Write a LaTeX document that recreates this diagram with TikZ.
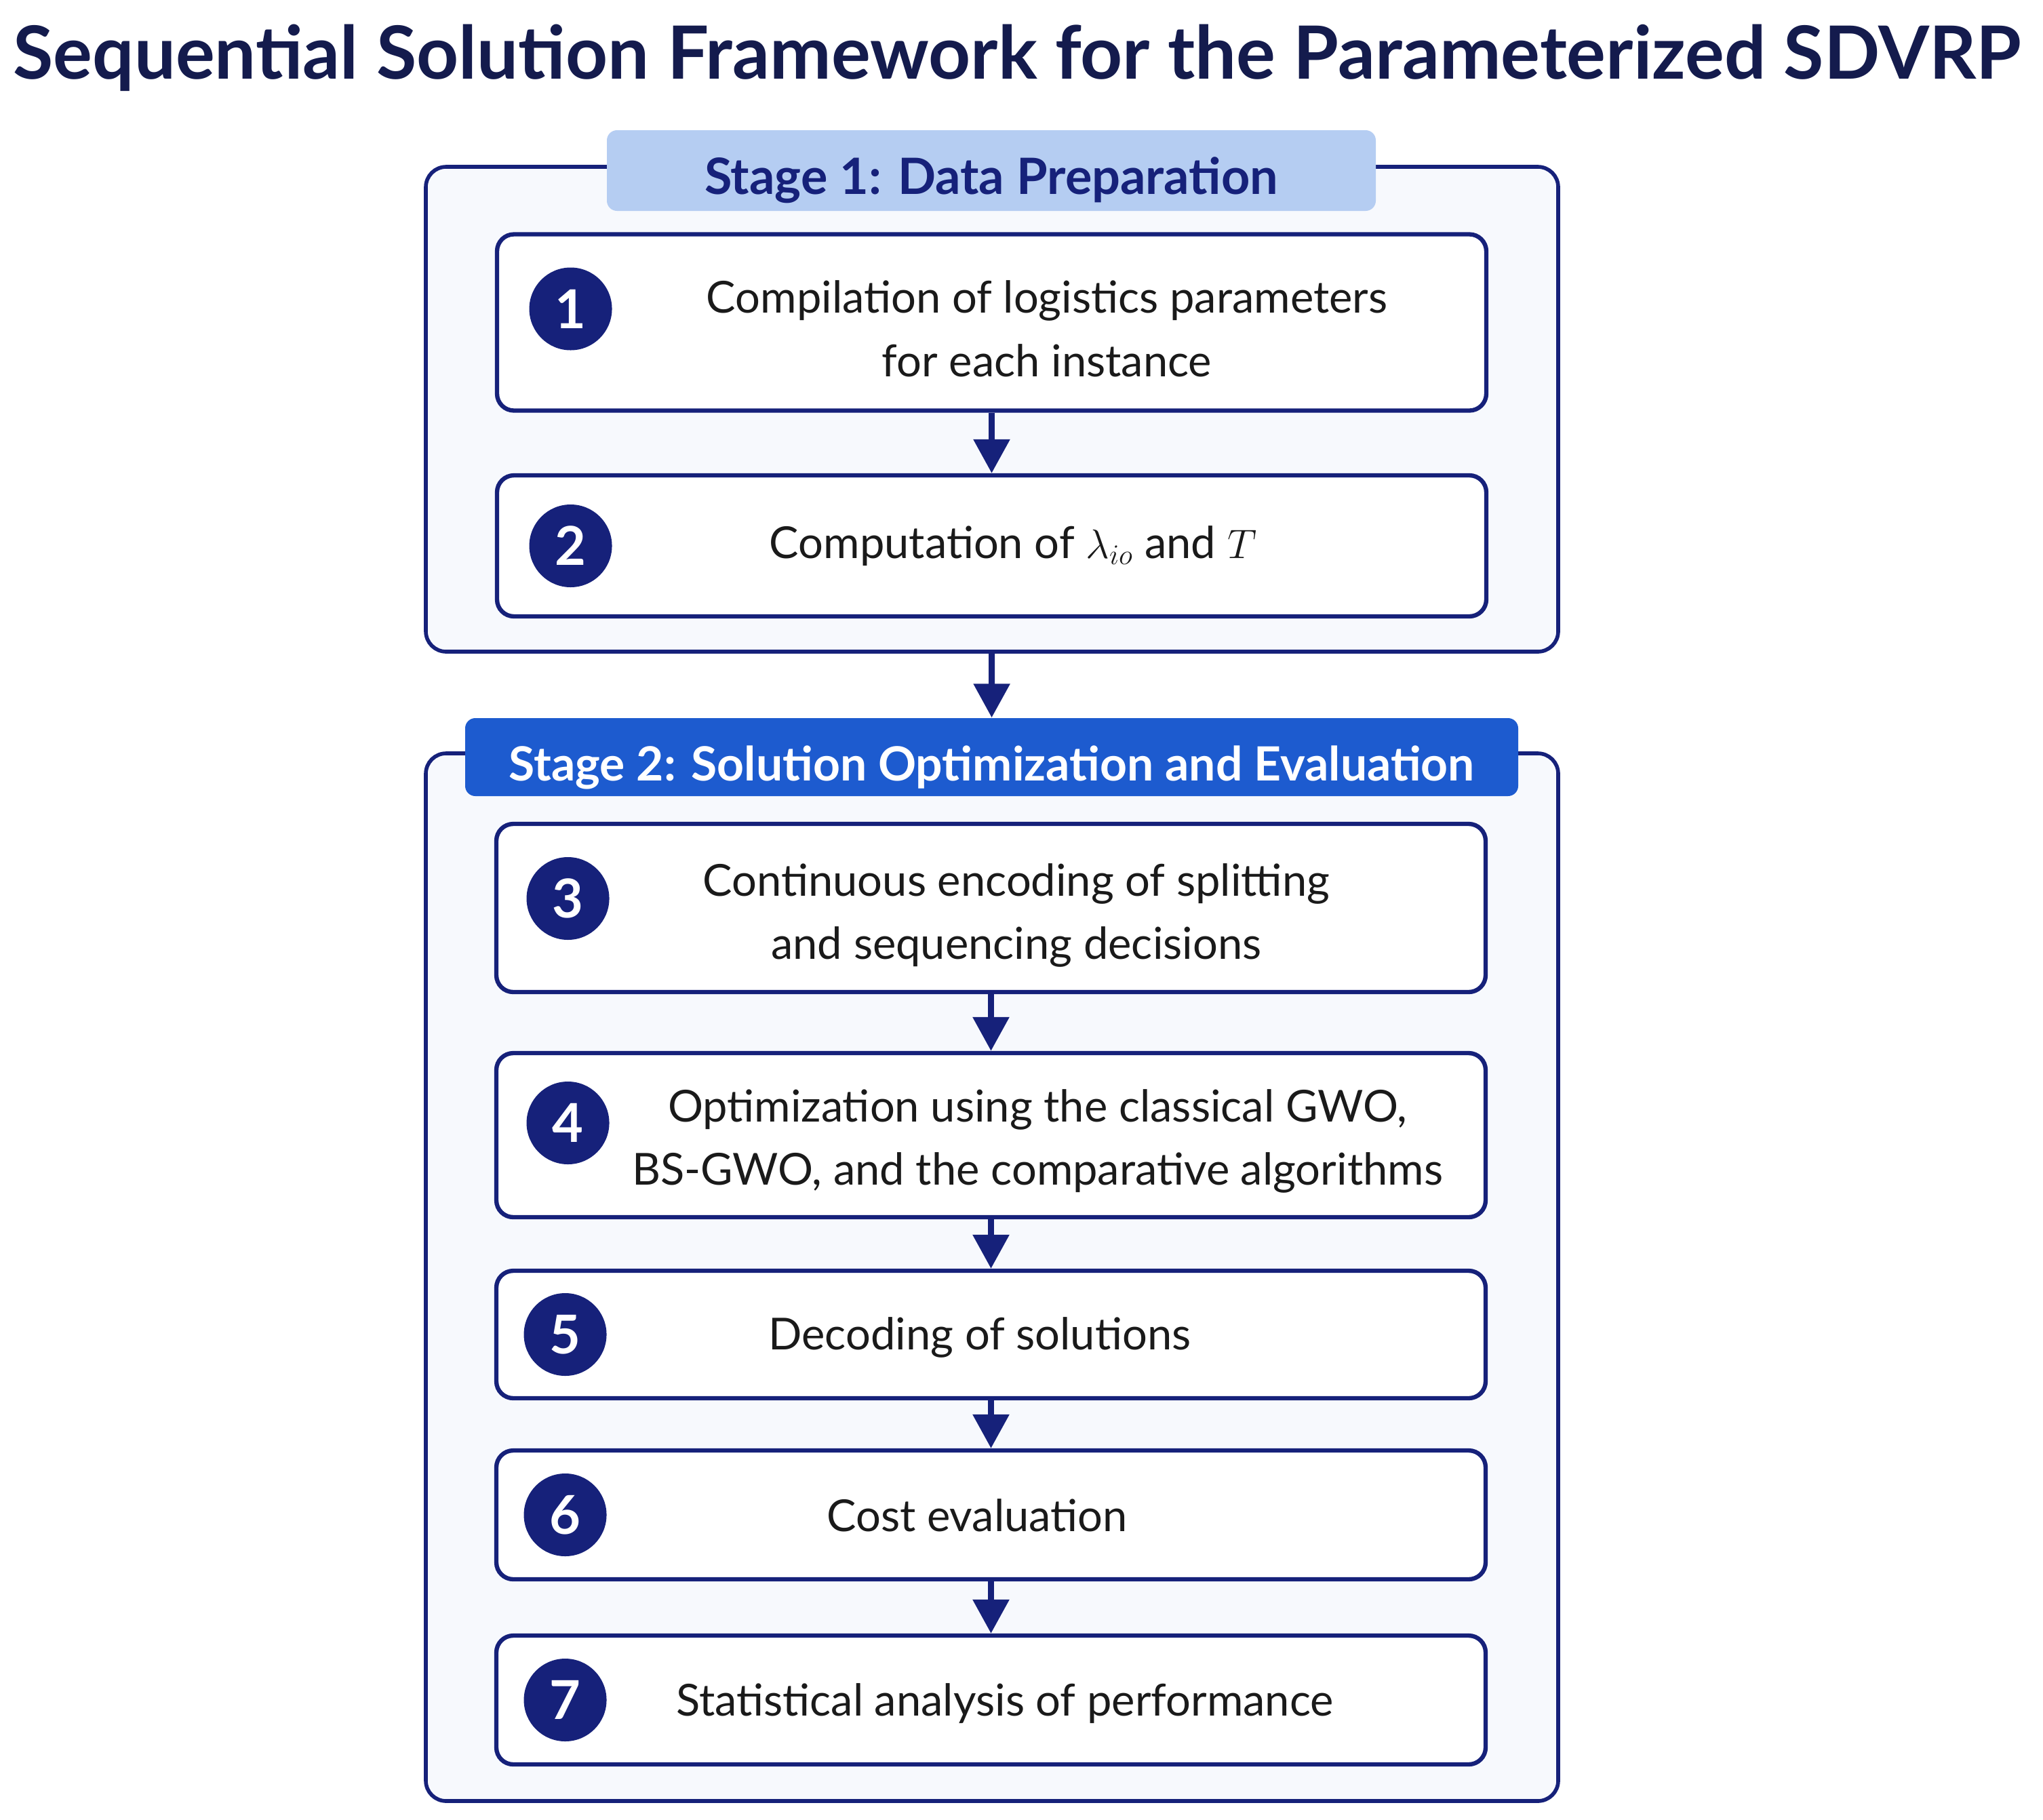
\documentclass[tikz,border=0pt]{standalone}
\usepackage{fontspec}
\setmainfont{Lato}
\usetikzlibrary{arrows.meta, positioning}
\definecolor{navy}{HTML}{16217A}
\definecolor{titlenavy}{HTML}{141B4D}
\definecolor{hdrlight}{HTML}{B5CDF2}
\definecolor{hdrblue}{HTML}{1D5BCF}
\definecolor{stagebg}{HTML}{F7F9FD}
\definecolor{bodytext}{HTML}{1A1A1A}

\begin{document}
\begin{tikzpicture}[
  stagebox/.style={draw=navy, line width=1.6pt, fill=stagebg, rounded corners=0.3cm, minimum width=16.7cm},
  stagehdr/.style={rounded corners=0.15cm, text height=20pt, text depth=0pt},
  stepbox/.style={draw=navy, line width=1.8pt, fill=white, rounded corners=0.25cm, minimum width=14.59cm},
  numcirc/.style={circle, fill=navy, minimum size=1.22cm, inner sep=0pt, text=white, font=\fontsize{22.5}{24}\selectfont\bfseries},
  steptext/.style={text=bodytext, align=center, font=\fontsize{18.5}{26.7}\selectfont},
  flow/.style={draw=navy, line width=2.6pt, -{Triangle[length=0.5cm, width=0.52cm]}},
]
  \useasboundingbox (0,0) rectangle (30.13,-26.84);

  % Title
  \node[anchor=base, text=titlenavy, font=\fontsize{30.8}{34}\selectfont\bfseries] (title) at (15.0,-1.16)
    {Sequential Solution Framework for the Parameterized SDVRP};

  % Stage 1
  \node[stagebox, minimum height=7.15cm] (stage1) at (14.63,-6.035) {};
  \node[stagehdr, fill=hdrlight, text=navy, minimum width=11.34cm, minimum height=1.19cm,
        font=\fontsize{21}{24}\selectfont\bfseries] (hdr1) at (14.62,-2.515)
    {Stage 1: Data Preparation};

  \node[stepbox, minimum height=2.6cm] (s1) at (14.625,-4.755) {};
  \node[numcirc, right=0.5cm of s1.west, yshift=0.2cm] (n1) {1};
  \node[steptext] (t1) at (15.44,-4.85) {Compilation of logistics parameters\\for each instance};

  \node[stepbox, minimum height=2.08cm] (s2) at (14.625,-8.05) {};
  \node[numcirc, right=0.5cm of s2.west] (n2) {2};
  \node[steptext] (t2) at (14.94,-8.05) {Computation of $\lambda_{io}$ and $T$};

  % Stage 2
  \node[stagebox, minimum height=15.45cm] (stage2) at (14.63,-18.835) {};
  \node[stagehdr, fill=hdrblue, text=white, minimum width=15.53cm, minimum height=1.15cm,
        font=\fontsize{19.8}{24}\selectfont\bfseries] (hdr2) at (14.625,-11.165)
    {Stage 2: Solution Optimization and Evaluation};

  \node[stepbox, minimum height=2.48cm] (s3) at (14.615,-13.39) {};
  \node[numcirc, right=0.47cm of s3.west, yshift=0.14cm] (n3) {3};
  \node[steptext] (t3) at (14.99,-13.50) {Continuous encoding of splitting\\and sequencing decisions};

  \node[stepbox, minimum height=2.42cm] (s4) at (14.615,-16.74) {};
  \node[numcirc, right=0.47cm of s4.west, yshift=0.18cm] (n4) {4};
  \node[steptext] (t4) at (15.30,-16.83) {Optimization using the classical GWO,\\BS-GWO, and the comparative algorithms};

  \node[stepbox, minimum height=1.88cm] (s5) at (14.615,-19.68) {};
  \node[numcirc, right=0.43cm of s5.west] (n5) {5};
  \node[steptext] (t5) at (14.45,-19.72) {Decoding of solutions};

  \node[stepbox, minimum height=1.9cm] (s6) at (14.615,-22.34) {};
  \node[numcirc, right=0.43cm of s6.west] (n6) {6};
  \node[steptext] (t6) at (14.41,-22.35) {Cost evaluation};

  \node[stepbox, minimum height=1.9cm] (s7) at (14.615,-25.07) {};
  \node[numcirc, right=0.43cm of s7.west] (n7) {7};
  \node[steptext] (t7) at (14.82,-25.12) {Statistical analysis of performance};

  % Arrows
  \draw[flow] (s1) -- (s2);
  \draw[flow] (stage1) -- (hdr2);
  \draw[flow] (s3) -- (s4);
  \draw[flow] (s4) -- (s5);
  \draw[flow] (s5) -- (s6);
  \draw[flow] (s6) -- (s7);
\end{tikzpicture}
\end{document}
